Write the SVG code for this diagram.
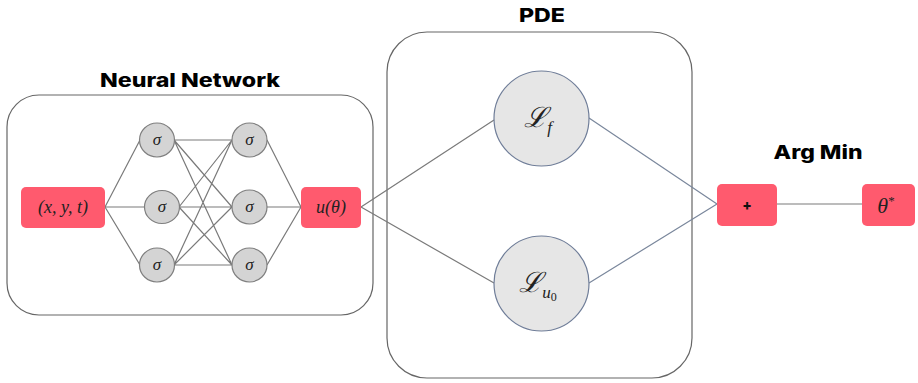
<svg xmlns="http://www.w3.org/2000/svg" width="918" height="383" viewBox="0 0 918 383">
<style>
.title{font-family:"Inter","Open Sans","DejaVu Sans",sans-serif;font-weight:800;font-size:19px;fill:#000;text-anchor:middle}
.box{fill:#fff;stroke:#666;stroke-width:1.2}
.red{fill:#ff5a6e;stroke:none}
.sig{fill:#d4d4d4;stroke:#7f7f7f;stroke-width:1.2}
.pde{fill:#e6e6e6;stroke:#6f7d98;stroke-width:1.2}
.math{font-family:"Liberation Serif","DejaVu Serif",serif;font-style:italic;fill:#222;text-anchor:middle}
.ln{stroke:#7a7a7a;stroke-width:1.2;fill:none}
.lnb{stroke:#7a879c;stroke-width:1.2;fill:none}
</style>
<rect width="918" height="383" fill="#fff"/>
<g id="nn-box">
<rect class="box" x="7" y="95" width="366" height="220" rx="32"/>
<text class="title" x="190" y="87" textLength="180" lengthAdjust="spacingAndGlyphs">Neural Network</text>
</g>
<g id="pde-box">
<rect class="box" x="387" y="32" width="305" height="346" rx="40"/>
<text class="title" x="542" y="22" textLength="46" lengthAdjust="spacingAndGlyphs">PDE</text>
</g>
<text class="title" x="818" y="159" textLength="89" lengthAdjust="spacingAndGlyphs">Arg Min</text>
<g id="connectors">
<path class="ln" d="M105,207 L140,140 M105,207 L144,207 M105,207 L140,265"/>
<path class="ln" d="M174,140 L232,140 M174,140 L232,207 M174,140 L232,265
M179,207 L232,140 M179,207 L232,207 M179,207 L232,265
M174,265 L232,140 M174,265 L232,207 M174,265 L232,265"/>
<path class="ln" d="M267,140 L301,207 M267,207 L301,207 M267,265 L301,207"/>
<path class="ln" d="M361,207 L494,120 M361,207 L494,283"/>
<path class="lnb" d="M589,118 L717,204 M589,283 L717,204"/>
<path class="ln" d="M777,204 L862,204"/>
</g>
<g id="input">
<rect class="red" x="21" y="187" width="84" height="41" rx="5"/>
<text class="math" x="63" y="213" font-size="18">(x, y, t)</text>
</g>
<g id="h1a"><ellipse class="sig" cx="157" cy="140" rx="17.5" ry="17"/><text class="math" x="157" y="145" font-size="17">σ</text></g>
<g id="h1b"><ellipse class="sig" cx="162" cy="207" rx="17.5" ry="16.5"/><text class="math" x="162" y="212" font-size="17">σ</text></g>
<g id="h1c"><ellipse class="sig" cx="157" cy="265" rx="17.5" ry="17"/><text class="math" x="157" y="270" font-size="17">σ</text></g>
<g id="h2a"><ellipse class="sig" cx="249.5" cy="140" rx="17.5" ry="17"/><text class="math" x="249.5" y="145" font-size="17">σ</text></g>
<g id="h2b"><ellipse class="sig" cx="249.5" cy="207" rx="17.5" ry="17"/><text class="math" x="249.5" y="212" font-size="17">σ</text></g>
<g id="h2c"><ellipse class="sig" cx="249.5" cy="265" rx="17.5" ry="17"/><text class="math" x="249.5" y="270" font-size="17">σ</text></g>
<g id="output">
<rect class="red" x="301" y="187" width="60" height="41" rx="5"/>
<text class="math" x="331" y="213" font-size="18">u(θ)</text>
</g>
<g id="loss-f">
<circle class="pde" cx="541.5" cy="118.5" r="47.5"/>
<text class="math" x="538" y="127" font-size="28">ℒ<tspan font-size="17" dy="6">f</tspan></text>
</g>
<g id="loss-u0">
<circle class="pde" cx="541.5" cy="283.5" r="47.5"/>
<text class="math" x="538" y="292" font-size="28">ℒ<tspan font-size="17" dy="6">u</tspan><tspan font-size="12" font-style="normal" dy="3">0</tspan></text>
</g>
<g id="sum">
<rect class="red" x="717" y="184" width="60" height="42" rx="5"/>
<text x="747" y="210" font-family="Inter,DejaVu Sans,sans-serif" font-weight="800" font-size="14" text-anchor="middle" fill="#111">+</text>
</g>
<g id="theta-star">
<rect class="red" x="862" y="184" width="53" height="42" rx="5"/>
<text class="math" x="886" y="213" font-size="22">θ<tspan font-size="13" font-style="normal" dy="-8">*</tspan></text>
</g>
</svg>
